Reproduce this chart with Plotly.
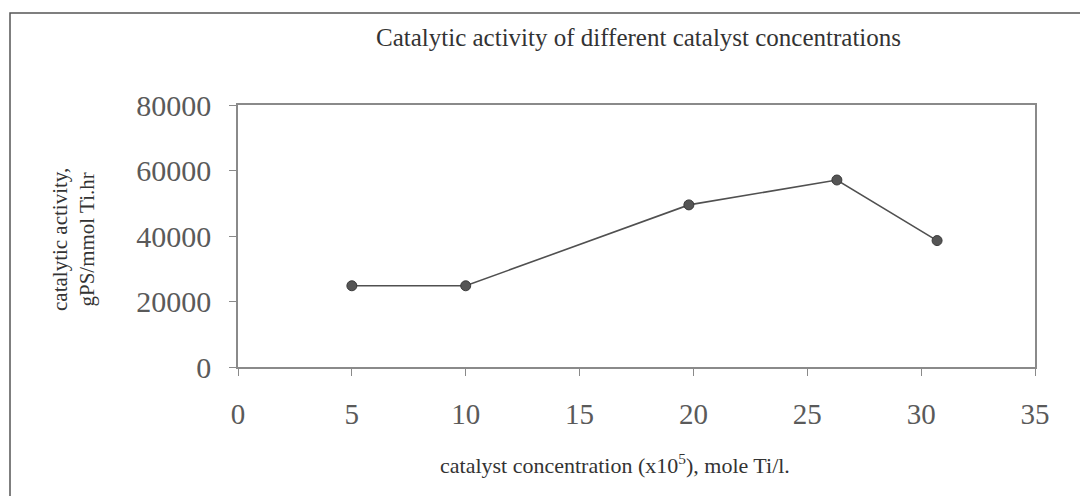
import plotly.graph_objects as go

concentration = [5, 10, 19.8, 26.3, 30.7]
activity = [24800, 24800, 49500, 57100, 38600]
x_ticks = [0, 5, 10, 15, 20, 25, 30, 35]
y_ticks = [0, 20000, 40000, 60000, 80000]

title_text = "Catalytic activity of different catalyst concentrations"
x_title = "catalyst concentration (x10<sup>5</sup>), mole Ti/l."
y_title = "catalytic activity,<br>gPS/mmol Ti.hr"

# the page body has an 8px margin; work in page pixels and offset
OFF = 8
W, H = 1088 - OFF, 496 - OFF
plot_left, plot_right, plot_top, plot_bottom = 238, 1035, 105, 367
L = plot_left - OFF
R = W - (plot_right - OFF)
T = plot_top - OFF
B = H - (plot_bottom - OFF)
pw, ph = plot_right - plot_left, plot_bottom - plot_top

def px(xp):
    return (xp - plot_left) / pw

def py(yp):
    return (plot_bottom - yp) / ph

font_serif = "Liberation Serif, Times New Roman, serif"
axis_col = "#8a8a8a"

fig = go.Figure()
fig.add_trace(go.Scatter(
    x=concentration, y=activity, mode="lines+markers",
    line=dict(color="#505050", width=1.6),
    marker=dict(color="#555555", size=10, line=dict(color="#3a3a3a", width=1)),
    showlegend=False,
))

fig.update_layout(
    width=W, height=H,
    margin=dict(l=L, r=R, t=T, b=B),
    paper_bgcolor="white", plot_bgcolor="white",
    font=dict(family=font_serif, color="#4a4a4a"),
    xaxis=dict(
        range=[0, 35], tickvals=x_ticks, ticktext=[str(v) for v in x_ticks],
        showgrid=False, zeroline=False, showline=True, linecolor=axis_col, linewidth=1.5,
        mirror=True, ticks="outside", ticklen=7, tickcolor=axis_col,
        tickfont=dict(family=font_serif, size=29, color="#5a5a5a"),
        ticklabelstandoff=13,
    ),
    yaxis=dict(
        range=[0, 80000], tickvals=y_ticks, ticktext=[str(v) for v in y_ticks],
        showgrid=False, zeroline=False, showline=True, linecolor=axis_col, linewidth=1.5,
        mirror=True, ticks="outside", ticklen=7, tickcolor=axis_col,
        tickfont=dict(family=font_serif, size=30, color="#5a5a5a"),
        ticklabelstandoff=12,
    ),
)

fig.add_annotation(
    text=title_text, xref="paper", yref="paper", x=px(638), y=py(38),
    showarrow=False, font=dict(family=font_serif, size=25, color="#333333"),
    xanchor="center", yanchor="middle",
)
fig.add_annotation(
    text=x_title, xref="paper", yref="paper", x=px(615), y=py(464),
    showarrow=False, font=dict(family=font_serif, size=22, color="#333333"),
    xanchor="center", yanchor="middle",
)
fig.add_annotation(
    text=y_title, xref="paper", yref="paper", x=px(73), y=py(240),
    showarrow=False, textangle=-90, font=dict(family=font_serif, size=21, color="#333333"),
    xanchor="center", yanchor="middle",
)

fig.add_shape(
    type="rect", xref="paper", yref="paper",
    x0=px(10), x1=px(1100), y0=py(520), y1=py(13),
    line=dict(color="#555555", width=1.5), fillcolor="rgba(0,0,0,0)", layer="below",
)

fig.write_html("out.html")
